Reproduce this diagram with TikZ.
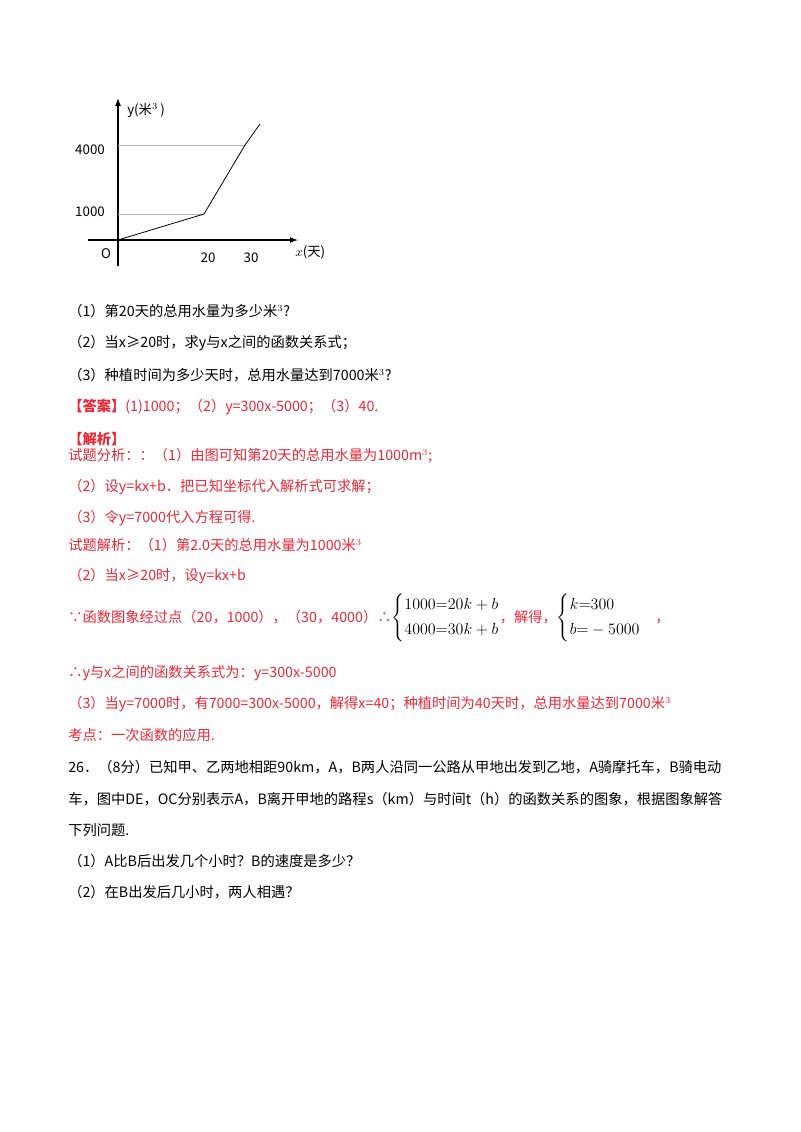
\documentclass[tikz,border=0pt]{standalone}
\usepackage{amsmath}
\usepackage{fontspec}
\setmainfont{Noto Sans CJK SC}
\usetikzlibrary{arrows.meta}
\definecolor{ansred}{RGB}{235,40,55}
\tikzset{
  txt/.style={anchor=west, inner sep=0pt, font=\fontsize{10.7}{12}\selectfont},
  red/.style={txt, text=ansred},
  lbl/.style={inner sep=0pt, font=\fontsize{10}{12}\selectfont},
  axis/.style={-{Latex[length=6pt]}, thick},
  guide/.style={gray!60, thin},
}
\begin{document}
\begin{tikzpicture}[x=0.75pt, y=-0.75pt]
  \useasboundingbox (0,0) rectangle (800,1132);
  % graph
  \coordinate (o) at (118,240);
  \coordinate (p1) at (204,214);
  \coordinate (p2) at (245,145);
  \coordinate (pe) at (260,124);
  \draw[axis] (118,266) -- (118,98);
  \draw[axis] (88,240) -- (298,240);
  \draw[guide] (118,214) -| (p1);
  \draw[guide] (118,145) -| (p2);
  \draw[semithick] (o) -- (p1) -- (p2) -- (pe);
  \node[lbl, anchor=west] (ylab) at (127,110) {y(米$^{3}$\,)};
  \node[lbl] (l4000) at (90,150) {4000};
  \node[lbl] (l1000) at (90,212) {1000};
  \node[lbl] (lo) at (106,254) {O};
  \node[lbl] (l20) at (208,258) {20};
  \node[lbl] (l30) at (251,258) {30};
  \node[lbl, anchor=west] (xlab) at (295,252) {$x$(天)};
  % questions
  \node[txt] (q1) at (68,311) {（1）第20天的总用水量为多少米$^{3}$?};
  \node[txt] (q2) at (68,343) {（2）当x≥20时，求y与x之间的函数关系式；};
  \node[txt] (q3) at (68,375) {（3）种植时间为多少天时，总用水量达到7000米$^{3}$?};
  \node[red] (ans) at (68,407) {\textbf{【答案】}(1)1000；（2）y=300x-5000；（3）40.};
  \node[red] (jx) at (68,439) {\textbf{【解析】}};
  \node[red] (a1) at (68,456) {试题分析：：（1）由图可知第20天的总用水量为1000m$^{3}$;};
  \node[red] (a2) at (68,487) {（2）设y=kx+b．把已知坐标代入解析式可求解；};
  \node[red] (a3) at (68,518) {（3）令y=7000代入方程可得.};
  \node[red] (s1) at (68,545) {试题解析：（1）第2.0天的总用水量为1000米$^{3}$};
  \node[red] (s2) at (68,576) {（2）当x≥20时，设y=kx+b};
  \node[red] (s3) at (68,618) {∵函数图象经过点（20，1000），（30，4000）∴%
    \textcolor{black}{\large$\left\{\begin{array}{@{}l@{}}1000{=}20k+b\\[5pt]4000{=}30k+b\end{array}\right.$}%
    ，解得，\textcolor{black}{\large$\left\{\begin{array}{@{}l@{}}k{=}300\\[5pt]b{=}-5000\end{array}\right.$}\quad ，};
  \node[red] (s4) at (68,673) {∴y与x之间的函数关系式为：y=300x-5000};
  \node[red] (s5) at (68,704) {（3）当y=7000时，有7000=300x-5000，解得x=40；种植时间为40天时，总用水量达到7000米$^{3}$};
  \node[red] (kd) at (68,735) {考点：一次函数的应用.};
  % next problem
  \node[txt] (p26a) at (68,767) {26．（8分）已知甲、乙两地相距90km，A，B两人沿同一公路从甲地出发到乙地，A骑摩托车，B骑电动};
  \node[txt] (p26b) at (68,799) {车，图中DE，OC分别表示A，B离开甲地的路程s（km）与时间t（h）的函数关系的图象，根据图象解答};
  \node[txt] (p26c) at (68,830) {下列问题.};
  \node[txt] (p26d) at (68,861) {（1）A比B后出发几个小时？B的速度是多少？};
  \node[txt] (p26e) at (68,892) {（2）在B出发后几小时，两人相遇？};
\end{tikzpicture}
\end{document}
